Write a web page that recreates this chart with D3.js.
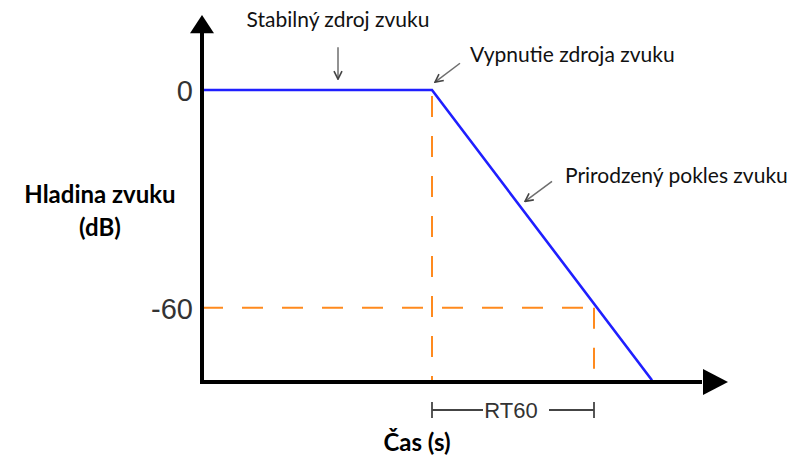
<!DOCTYPE html>
<html>
<head>
<meta charset="utf-8">
<script src="https://cdn.jsdelivr.net/npm/d3@7"></script>
<style>
  html, body { margin: 0; padding: 0; background: #fff; }
  svg { display: block; }
</style>
</head>
<body>
<svg id="chart" width="808" height="459"></svg>
<script>
// ---- data ----
const levelTicks = [0, -60];
const tickLabels = ["0", "-60"];
const times = [0, 2.3, 4.5];          // s (schematic)
const levels = [0, 0, -80];           // dB
const switchOffTime = 2.3;
const rt60Level = -60;
const rt60EndTime = 3.92;
const annotations = [
  { text: "Stabilný zdroj zvuku", tx: 1.36, ty: 17.4, anchor: "middle", ax0: [1.36, 11.8], ax1: [1.36, 3.0] },
  { text: "Vypnutie zdroja zvuku", tx: 2.68, ty: 7.8, anchor: "start", ax0: [2.58, 7.4], ax1: [2.33, 2.2] },
  { text: "Prirodzený pokles zvuku", tx: 3.63, ty: -25.5, anchor: "start", ax0: [3.5, -25.2], ax1: [3.23, -30.7] }
];
const yTitle = ["Hladina zvuku", "(dB)"];
const xTitle = "Čas (s)";
const rtLabel = "RT60";

// ---- scales ----
const svg = d3.select("#chart");
const x = d3.scaleLinear().domain([0, 5.26]).range([202, 728]);
const y = d3.scaleLinear().domain([20.7, -80.5]).range([15, 382]);

const x0 = x(0), yBase = y(-80.5);

// orange dashed guide lines
const orange = "#ff8a1e";
const guides = svg.append("g").attr("stroke", orange).attr("stroke-width", 2)
  .attr("stroke-dasharray", "21,19").attr("fill", "none");
guides.append("line").attr("x1", x(switchOffTime)).attr("x2", x(switchOffTime))
  .attr("y1", y(0)).attr("y2", yBase).attr("stroke-dashoffset", -6);
guides.append("line").attr("x1", x0).attr("x2", x(rt60EndTime))
  .attr("y1", y(rt60Level)).attr("y2", y(rt60Level));
guides.append("line").attr("x1", x(rt60EndTime)).attr("x2", x(rt60EndTime))
  .attr("y1", y(rt60Level)).attr("y2", yBase);

// blue decay line
const pts = times.map((t, i) => [t, levels[i]]);
svg.append("path").datum(pts)
  .attr("d", d3.line().x(d => x(d[0])).y(d => y(d[1])))
  .attr("fill", "none").attr("stroke", "#1f1fff").attr("stroke-width", 2.6)
  .attr("stroke-linejoin", "miter");

// axes lines with arrowheads
const axisG = svg.append("g");
axisG.append("line").attr("x1", x0).attr("x2", x0).attr("y1", yBase + 2).attr("y2", 30)
  .attr("stroke", "#000").attr("stroke-width", 4);
axisG.append("path")
  .attr("d", `M${x0},${y(20.7)} L${x0 - 12},${y(15.7)} L${x0 + 12},${y(15.7)} Z`)
  .attr("fill", "#000");
axisG.append("line").attr("x1", x0 - 2).attr("x2", x(5.0)).attr("y1", yBase).attr("y2", yBase)
  .attr("stroke", "#000").attr("stroke-width", 4);
axisG.append("path")
  .attr("d", `M${x(5.26)},${yBase} L${x(5.01)},${yBase - 13} L${x(5.01)},${yBase + 13} Z`)
  .attr("fill", "#000");

// y tick labels via d3 axis
const yAxis = d3.axisLeft(y).tickValues(levelTicks)
  .tickFormat((d, i) => tickLabels[i]).tickSize(0).tickPadding(9);
const ya = svg.append("g").attr("transform", `translate(${x0},0)`).call(yAxis);
ya.select(".domain").remove();
ya.selectAll("text").attr("font-family", "'Liberation Sans', Arial, sans-serif")
  .attr("font-size", 29).attr("fill", "#333").attr("dy", "0.36em");

// annotations
const annFont = "Lato, 'Noto Sans', sans-serif";
const arrowCol = "#6e6e6e";
svg.append("defs").append("marker").attr("id", "ah")
  .attr("viewBox", "0 0 10 10").attr("refX", 9).attr("refY", 5)
  .attr("markerWidth", 10).attr("markerHeight", 10).attr("markerUnits", "userSpaceOnUse")
  .attr("orient", "auto")
  .append("path").attr("d", "M1,1 L9,5 L1,9").attr("fill", "none")
  .attr("stroke", "#444").attr("stroke-width", 1.6);

annotations.forEach(a => {
  svg.append("text").attr("x", x(a.tx)).attr("y", y(a.ty))
    .attr("text-anchor", a.anchor)
    .attr("font-family", annFont).attr("font-size", 21).attr("fill", "#111")
    .text(a.text);
  svg.append("line").attr("x1", x(a.ax0[0])).attr("y1", y(a.ax0[1]))
    .attr("x2", x(a.ax1[0])).attr("y2", y(a.ax1[1]))
    .attr("stroke", arrowCol).attr("stroke-width", 1.5).attr("marker-end", "url(#ah)");
});

// axis titles
const titleAttrs = sel => sel.attr("text-anchor", "middle").attr("font-family", annFont)
  .attr("font-weight", "bold").attr("font-size", 24).attr("fill", "#000");
svg.append("text").attr("x", 100).attr("y", 203).call(titleAttrs).text(yTitle[0]);
svg.append("text").attr("x", 100).attr("y", 236).call(titleAttrs).text(yTitle[1]);
svg.append("text").attr("x", 417).attr("y", 451).call(titleAttrs).text(xTitle);

// RT60 bracket
const bY = 410;
const bx1 = x(switchOffTime), bx2 = x(rt60EndTime);
const br = svg.append("g").attr("stroke", "#444").attr("stroke-width", 1.8);
br.append("line").attr("x1", bx1).attr("x2", bx1).attr("y1", bY - 8).attr("y2", bY + 8);
br.append("line").attr("x1", bx2).attr("x2", bx2).attr("y1", bY - 8).attr("y2", bY + 8);
br.append("line").attr("x1", bx1).attr("x2", bx1 + 51).attr("y1", bY).attr("y2", bY);
br.append("line").attr("x1", bx2 - 45).attr("x2", bx2).attr("y1", bY).attr("y2", bY);
svg.append("text").attr("x", bx1 + 79).attr("y", bY).attr("dy", "0.36em")
  .attr("text-anchor", "middle").attr("font-family", "'Liberation Sans', Arial, sans-serif")
  .attr("font-size", 22).attr("fill", "#333").text(rtLabel);
</script>
</body>
</html>
